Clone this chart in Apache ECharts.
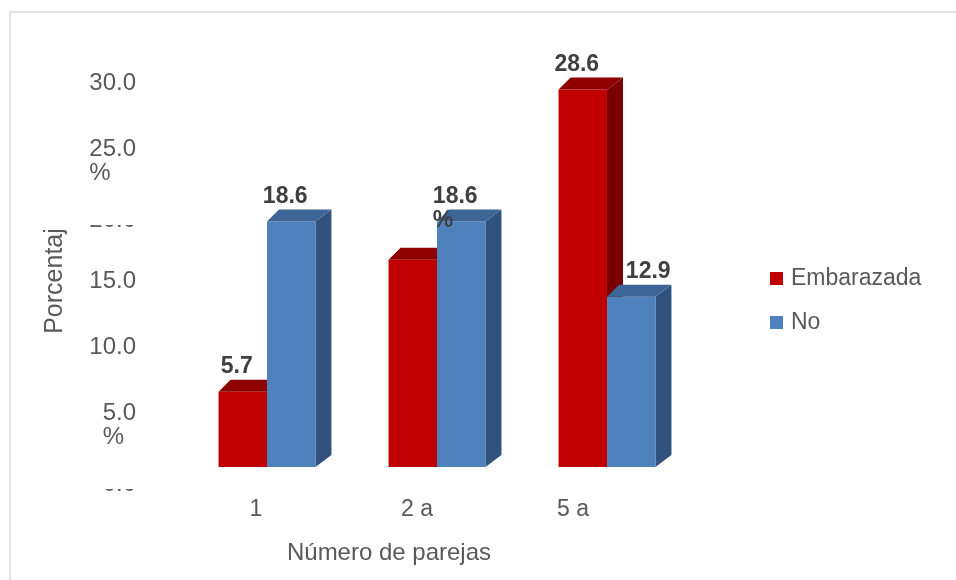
<!DOCTYPE html>
<html>
<head>
<meta charset="utf-8">
<script src="https://cdn.jsdelivr.net/npm/echarts@6/dist/echarts.min.js"></script>
<style>
  html, body { margin: 0; padding: 0; background: #ffffff; }
  #chart { width: 956px; height: 580px; }
</style>
</head>
<body>
<div id="chart"></div>
<script>
// Categories and series values (percent)
const categories = ['1', '2 a', '5 a'];
const embarazada = [5.7, 15.7, 28.6];
const noEmb = [18.6, 18.6, 12.9];
// Value tick labels on the percentage axis
const yTickLabels = ['0.0', '5.0\n%', '10.0', '15.0', '20.0', '25.0\n%', '30.0'];
// Data labels: which points are labelled, and a unit line under the value
const embLabelShown = [true, false, true];
const noLabelShown = [true, true, true];
const noLabelUnit = ['', '%', ''];

const FONT = '"Liberation Sans", Arial, Helvetica, sans-serif';
const TEXT = '#595959';
const LABEL = '#404040';

// Face colours: front, top, side
const palettes = [
  { front: '#C00000', top: '#8E0000', side: '#7A0000' },
  { front: '#4F81BD', top: '#3D6595', side: '#30527C' }
];

// Horizontal nudges for individual data labels (series-index)
const labelNudge = { '1-2': 23 };

function renderBar(sIdx, shown, units) {
  const pal = palettes[sIdx];
  return function (params, api) {
    const ci = api.value(0);
    const v = api.value(1);
    const top = api.coord([ci, v]);
    const base = api.coord([ci, 0]);
    const band = api.size([1, 0])[0];
    const bw = band * 0.285;
    const x0 = sIdx === 0 ? top[0] - bw : top[0];
    const x1 = x0 + bw;
    const yT = top[1];
    const yB = base[1];
    const dxL = 12, dxR = 16, dy = 12;
    const children = [
      { type: 'polygon', shape: { points: [[x1, yT], [x1 + dxR, yT - dy], [x1 + dxR, yB - dy], [x1, yB]] },
        style: { fill: pal.side } },
      { type: 'rect', shape: { x: x0, y: yT, width: bw, height: yB - yT },
        style: { fill: pal.front } },
      { type: 'polygon', shape: { points: [[x0, yT], [x0 + dxL, yT - dy], [x1 + dxR, yT - dy], [x1, yT]] },
        style: { fill: pal.top } }
    ];
    const i = params.dataIndex;
    if (shown[i]) {
      const unit = units ? units[i] : '';
      const txt = unit ? '{n|' + v.toFixed(1) + '}\n{p|' + unit + '}' : '{n|' + v.toFixed(1) + '}';
      const nudge = labelNudge[sIdx + '-' + i] || 0;
      children.push({
        type: 'text',
        z2: 10,
        style: {
          text: txt,
          x: (x0 + x1) / 2 - 6 + nudge,
          y: yT - 25 - 12,
          align: 'center',
          verticalAlign: 'top',
          rich: {
            n: { font: 'bold 23px ' + FONT, fill: LABEL, lineHeight: 24 },
            p: { font: 'bold 23px ' + FONT, fill: LABEL, lineHeight: 24, align: 'left' }
          }
        }
      });
    }
    return { type: 'group', children: children };
  };
}

const chart = echarts.init(document.getElementById('chart'));

const yRich = {
  n: { fontSize: 24, fontFamily: FONT, color: TEXT, lineHeight: 24 },
  p: { fontSize: 24, fontFamily: FONT, color: TEXT, lineHeight: 24, align: 'left' },
  cut: { fontSize: 24, fontFamily: FONT, color: TEXT, lineHeight: 34 }
};

const catRich = {
  c0: { fontSize: 23, fontFamily: FONT, color: TEXT, padding: [0, 22, 0, 0] },
  c1: { fontSize: 23, fontFamily: FONT, color: TEXT, padding: [0, 40, 0, 0] },
  c2: { fontSize: 23, fontFamily: FONT, color: TEXT, padding: [0, 68, 0, 0] }
};

chart.setOption({
  backgroundColor: '#ffffff',
  animation: false,
  grid: { left: 182, right: 264, top: 71, bottom: 113 },
  legend: {
    orient: 'vertical',
    left: 770,
    top: 267,
    padding: 0,
    icon: 'rect',
    itemWidth: 13,
    itemHeight: 13,
    itemGap: 21,
    data: ['Embarazada', 'No'],
    textStyle: { fontSize: 23, fontFamily: FONT, color: TEXT, lineHeight: 23, padding: [0, 0, 0, 3] }
  },
  xAxis: {
    type: 'category',
    data: categories,
    name: 'Número de parejas',
    nameLocation: 'middle',
    nameGap: 74,
    nameTextStyle: { fontSize: 24, fontFamily: FONT, color: TEXT, padding: [0, 96, 0, 0] },
    axisLine: { show: false },
    axisTick: { show: false },
    axisLabel: {
      margin: 31,
      formatter: function (value, idx) { return '{c' + idx + '|' + value + '}'; },
      rich: catRich
    }
  },
  yAxis: {
    type: 'value',
    min: 0,
    max: 30,
    interval: 5,
    name: 'Porcentaj',
    nameLocation: 'middle',
    nameRotate: 90,
    nameGap: 114,
    nameTextStyle: { fontSize: 25, fontFamily: FONT, color: TEXT, padding: [0, 24, 0, 0] },
    axisLine: { show: false },
    axisTick: { show: false },
    splitLine: { show: false },
    axisLabel: {
      margin: 46,
      verticalAlign: 'top',
      formatter: function (value) {
        const idx = Math.round(value / 5);
        const parts = yTickLabels[idx].split('\n');
        if (value === 20 || value === 0) return '{cut|' + parts[0] + '}';
        return parts.length > 1 ? '{n|' + parts[0] + '}\n{p|' + parts[1] + '}' : '{n|' + parts[0] + '}';
      },
      rich: yRich
    }
  },
  graphic: [
    // outer frame of the chart area
    { type: 'rect', silent: true, shape: { x: 10, y: 12, width: 1000, height: 620 },
      style: { fill: 'none', stroke: '#d9d9d9', lineWidth: 1.5 } },
    // the 20.0 and 0.0 labels sit partly behind the plot's label boxes
    { type: 'rect', silent: true, z: 100, shape: { x: 80, y: 196, width: 62, height: 29 },
      style: { fill: '#ffffff' } },
    { type: 'rect', silent: true, z: 100, shape: { x: 80, y: 470, width: 62, height: 19 },
      style: { fill: '#ffffff' } }
  ],
  series: [
    {
      name: 'Embarazada',
      type: 'custom',
      itemStyle: { color: palettes[0].front },
      encode: { x: 0, y: 1 },
      data: embarazada.map(function (v, i) { return [i, v]; }),
      renderItem: renderBar(0, embLabelShown, null)
    },
    {
      name: 'No',
      type: 'custom',
      itemStyle: { color: palettes[1].front },
      encode: { x: 0, y: 1 },
      data: noEmb.map(function (v, i) { return [i, v]; }),
      renderItem: renderBar(1, noLabelShown, noLabelUnit)
    }
  ]
});
</script>
</body>
</html>
